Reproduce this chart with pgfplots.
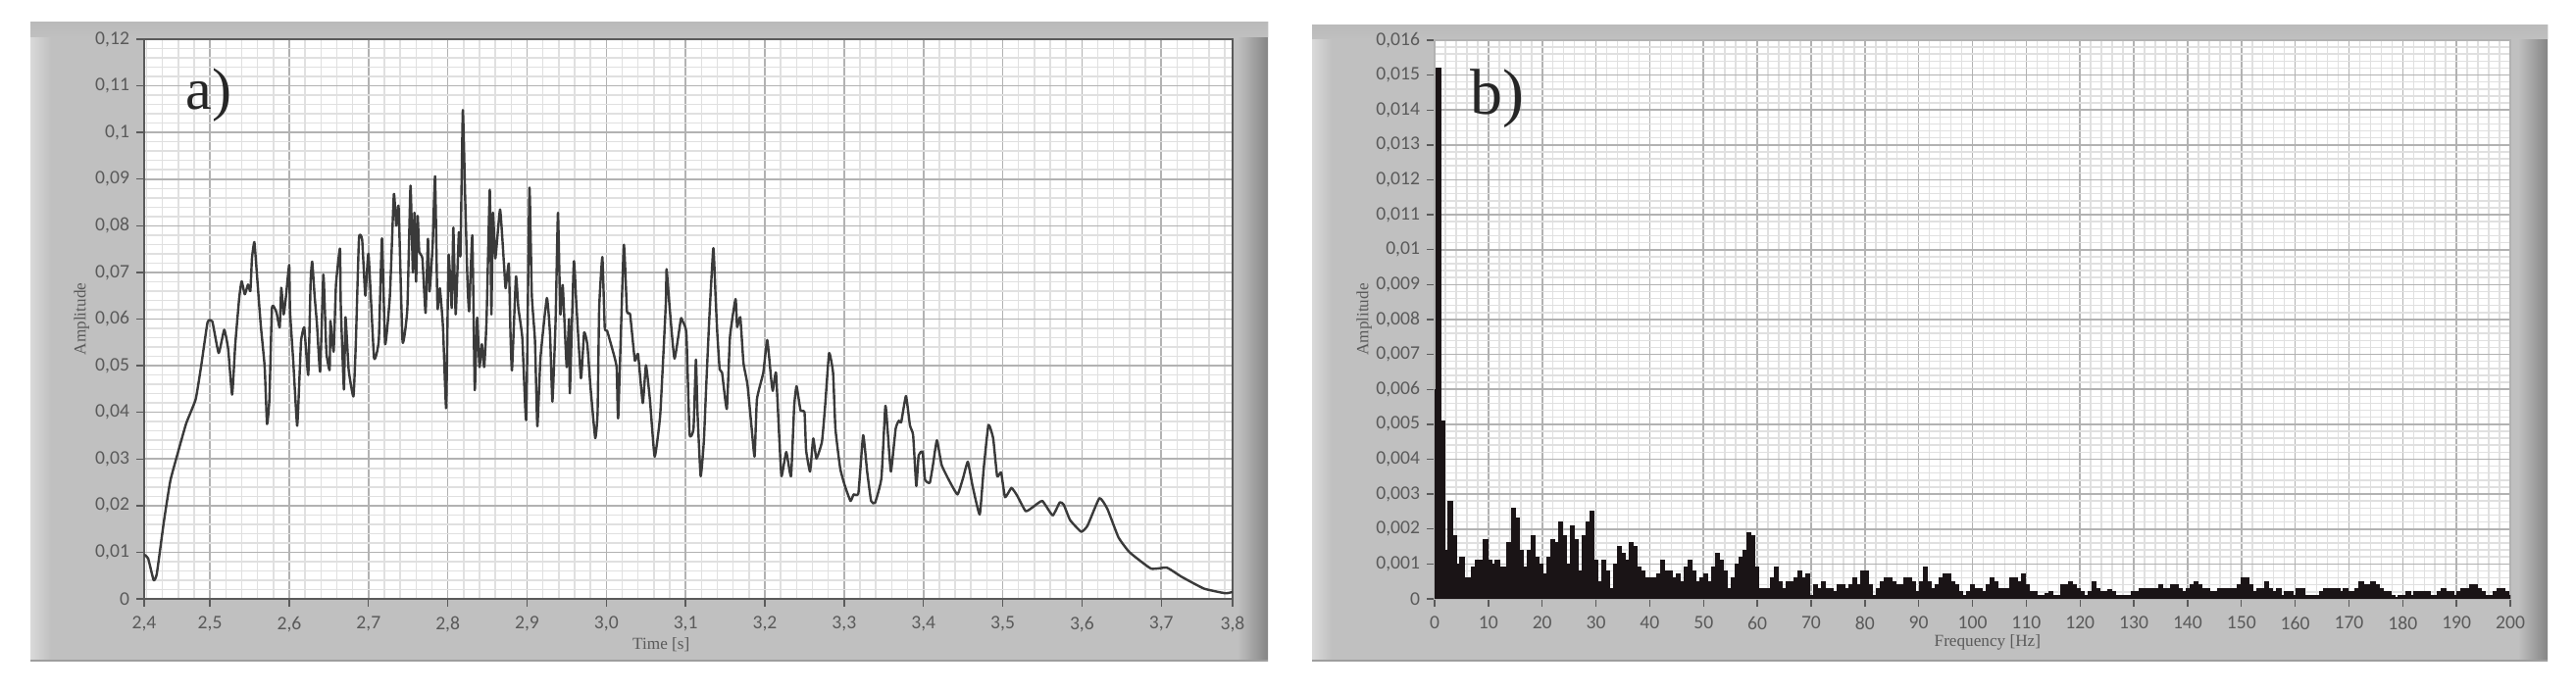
\documentclass[border=0pt]{standalone}
\usepackage{pgfplots}
\pgfplotsset{compat=1.18}
\usepackage{pgfplotstable}
\usepackage{fontspec}
\setmainfont{Carlito}
\newfontfamily\serifl{Liberation Serif}
\definecolor{panel}{HTML}{C0C0C0}
\definecolor{lab}{HTML}{5A5A5A}
\definecolor{gmaj}{HTML}{B2B2B2}
\definecolor{gmin}{HTML}{E0E0E0}
\definecolor{trace}{HTML}{3A3A3A}
\definecolor{bars}{HTML}{1A1416}
\pgfplotstableread{
t a
2.417 .0095
2.422 .0087
2.429 .0040
2.433 .0054
2.442 .0167
2.450 .0253
2.459 .0310
2.470 .0376
2.482 .0428
2.489 .0500
2.497 .0593
2.503 .0595
2.511 .0527
2.518 .0577
2.523 .0536
2.528 .0438
2.532 .0547
2.537 .0646
2.540 .0681
2.544 .0653
2.548 .0674
2.551 .0660
2.553 .0730
2.556 .0765
2.559 .0702
2.564 .0589
2.569 .0498
2.572 .0375
2.575 .0428
2.578 .0618
2.580 .0628
2.584 .0614
2.588 .0582
2.590 .0667
2.593 .0610
2.596 .0650
2.600 .0716
2.601 .0618
2.605 .0512
2.610 .0371
2.613 .0477
2.615 .0554
2.619 .0582
2.624 .0480
2.627 .0681
2.629 .0723
2.632 .0650
2.635 .0589
2.639 .0487
2.643 .0695
2.645 .0618
2.647 .0526
2.651 .0491
2.652 .0596
2.656 .0530
2.659 .0674
2.664 .0751
2.665 .0632
2.669 .0449
2.671 .0604
2.675 .0491
2.681 .0434
2.684 .0547
2.688 .0773
2.692 .0770
2.696 .0650
2.700 .0740
2.707 .0517
2.713 .0555
2.717 .0773
2.721 .0546
2.727 .0650
2.732 .0868
2.735 .0800
2.738 .0840
2.743 .0551
2.749 .0622
2.753 .0886
2.756 .0700
2.758 .0828
2.760 .0680
2.762 .0821
2.764 .0744
2.768 .0730
2.772 .0613
2.775 .0772
2.777 .0659
2.781 .0760
2.784 .0906
2.787 .0624
2.790 .0666
2.794 .0582
2.798 .0409
2.801 .0737
2.805 .0624
2.807 .0796
2.810 .0610
2.814 .0786
2.816 .0737
2.819 .1048
2.822 .0856
2.825 .0673
2.827 .0617
2.831 .0779
2.834 .0448
2.837 .0603
2.840 .0497
2.843 .0546
2.846 .0497
2.849 .0603
2.853 .0877
2.855 .0610
2.857 .0828
2.860 .0730
2.866 .0835
2.871 .0715
2.873 .0666
2.877 .0719
2.879 .0575
2.881 .0490
2.886 .0691
2.889 .0624
2.894 .0560
2.899 .0385
2.903 .0881
2.906 .0652
2.910 .0554
2.913 .0370
2.917 .0518
2.925 .0645
2.929 .0568
2.932 .0423
2.936 .0596
2.939 .0828
2.942 .0610
2.945 .0673
2.950 .0497
2.953 .0600
2.954 .0441
2.959 .0723
2.962 .0638
2.968 .0473
2.972 .0571
2.976 .0546
2.980 .0455
2.986 .0345
2.989 .0399
2.991 .0624
2.995 .0733
2.998 .0582
3.001 .0575
3.007 .0539
3.013 .0497
3.015 .0388
3.022 .0758
3.026 .0617
3.030 .0610
3.036 .0511
3.040 .0525
3.046 .0420
3.050 .0501
3.055 .0427
3.061 .0305
3.068 .0395
3.075 .0631
3.076 .0707
3.080 .0622
3.086 .0515
3.094 .0600
3.096 .0596
3.101 .0569
3.105 .0354
3.110 .0365
3.113 .0513
3.115 .0400
3.119 .0263
3.123 .0337
3.126 .0456
3.130 .0604
3.135 .0752
3.138 .0640
3.140 .0569
3.143 .0492
3.146 .0485
3.152 .0407
3.156 .0562
3.163 .0643
3.165 .0583
3.169 .0604
3.173 .0506
3.178 .0460
3.183 .0372
3.187 .0305
3.190 .0428
3.198 .0485
3.203 .0555
3.208 .0470
3.210 .0446
3.214 .0485
3.218 .0351
3.221 .0263
3.227 .0315
3.233 .0263
3.237 .0414
3.240 .0456
3.245 .0404
3.250 .0400
3.252 .0319
3.257 .0273
3.261 .0344
3.265 .0301
3.272 .0337
3.276 .0414
3.281 .0527
3.286 .0485
3.289 .0365
3.295 .0280
3.301 .0242
3.308 .0210
3.312 .0224
3.318 .0227
3.324 .0351
3.329 .0273
3.334 .0210
3.339 .0206
3.347 .0259
3.352 .0414
3.355 .0358
3.359 .0273
3.365 .0365
3.369 .0382
3.372 .0379
3.378 .0435
3.383 .0372
3.387 .0351
3.391 .0242
3.394 .0308
3.399 .0315
3.402 .0256
3.408 .0249
3.412 .0287
3.417 .0340
3.423 .0287
3.433 .0252
3.443 .0224
3.450 .0259
3.456 .0294
3.462 .0242
3.471 .0181
3.476 .0279
3.482 .0373
3.488 .0344
3.493 .0263
3.498 .0271
3.503 .0218
3.511 .0238
3.518 .0222
3.529 .0188
3.539 .0198
3.550 .0210
3.563 .0179
3.572 .0207
3.577 .0202
3.585 .0169
3.599 .0144
3.607 .0157
3.622 .0216
3.632 .0193
3.646 .0132
3.660 .0100
3.687 .0065
3.707 .0067
3.726 .0047
3.754 .0022
3.781 .0012
3.790 .0015
}\tablea
\pgfplotstableread{
v
.0060
.0152
.0051
.0014
.0028
.0018
.0010
.0012
.0006
.0006
.0009
.0011
.0011
.0017
.0011
.0010
.0011
.0009
.0009
.0016
.0026
.0023
.0014
.0009
.0014
.0018
.0012
.0010
.0007
.0012
.0017
.0016
.0022
.0018
.0010
.0021
.0017
.0008
.0018
.0022
.0025
.0011
.0005
.0011
.0008
.0003
.0010
.0015
.0013
.0011
.0016
.0015
.0009
.0008
.0006
.0006
.0006
.0007
.0011
.0008
.0008
.0006
.0007
.0005
.0009
.0011
.0008
.0005
.0006
.0007
.0005
.0009
.0013
.0011
.0008
.0003
.0006
.0010
.0012
.0014
.0019
.0018
.0009
.0003
.0003
.0003
.0006
.0009
.0005
.0003
.0005
.0005
.0006
.0008
.0006
.0007
.0001
.0004
.0003
.0005
.0003
.0003
.0002
.0004
.0004
.0003
.0004
.0006
.0004
.0008
.0008
.0004
.0001
.0003
.0005
.0006
.0006
.0005
.0004
.0004
.0006
.0006
.0005
.0002
.0005
.0009
.0005
.0003
.0004
.0006
.0007
.0007
.0005
.0004
.0002
.0001
.0002
.0004
.0003
.0003
.0002
.0004
.0006
.0005
.0003
.0003
.0003
.0006
.0006
.0005
.0007
.0004
.0002
.0002
.0001
.0001
.00015
.0002
.0001
.0001
.0004
.0004
.0005
.0004
.0003
.0002
.0001
.0002
.0005
.0003
.0002
.0002
.00025
.0002
.0001
.0001
.0001
.0001
.0002
.0002
.0003
.0003
.0003
.0003
.0003
.0004
.0003
.0003
.0004
.0004
.0003
.0002
.0003
.0004
.0005
.0004
.0003
.0003
.0002
.0002
.0003
.0003
.0003
.0003
.0003
.0004
.0006
.0006
.0004
.0002
.0003
.0003
.0005
.0003
.0002
.0003
.0001
.0002
.0002
.0001
.0003
.0003
.0001
.0001
.0001
.0001
.0002
.0003
.0003
.0003
.0003
.0002
.0003
.0002
.0002
.0003
.0005
.0004
.0004
.0005
.0004
.0003
.0002
.0002
.0001
.00003
.0001
.0001
.0002
.0001
.0002
.0002
.0002
.0002
.0001
.0001
.0002
.0003
.0002
.0002
.0001
.0002
.0003
.0003
.0004
.0004
.0003
.0002
.0001
.0001
.0002
.0003
.0003
.0002
.0001
}\tableb
\pgfplotsset{
 panelaxis/.style={
  scale only axis,
  axis background/.style={fill=white},
  grid=both,
  major grid style={gmaj,line width=0.8pt},
  minor grid style={gmin,line width=0.75pt},
  tick style={lab,line width=0.7pt},
  major tick length=4pt,
  minor tick length=0pt,
  tick align=outside,
  xtick pos=bottom,
  ytick pos=left,
  scaled y ticks=false,
  scaled x ticks=false,
  ticklabel style={font=\fontsize{9.8}{11}\selectfont,text=lab},
  xticklabel style={yshift=-1.5pt},
  xlabel style={font=\serifl\fontsize{8.6}{10}\selectfont,text=lab,anchor=center},
  ylabel style={font=\serifl\fontsize{8.6}{10}\selectfont,text=lab,anchor=center},
  ymin=0,
 },
}
\begin{document}
\begin{tikzpicture}
\path[use as bounding box,fill=white] (0pt,0pt) rectangle (1313.5pt,353pt);
\begin{scope}[x=0.5pt,y=-0.5pt,shift={(0pt,353pt)}]
  % panel a
  \fill[panel] (31,23) rectangle (1293,675);
  \fill[left color=panel!60!white,right color=panel] (31,23) rectangle (52,675);
  \fill[left color=panel,right color=black!48] (1262,23) rectangle (1293,675);
  \fill[top color=black!27,bottom color=panel] (31,23) rectangle (1293,38);
  \fill[black!38] (31,673) rectangle (1293,675);
  % panel b
  \fill[panel] (1338,26) rectangle (2598,675);
  \fill[left color=panel!60!white,right color=panel] (1338,26) rectangle (1358,675);
  \fill[left color=panel,right color=black!48] (2568,26) rectangle (2598,675);
  \fill[top color=black!27,bottom color=panel] (1338,26) rectangle (2598,40);
  \fill[black!38] (1338,673) rectangle (2598,675);
\end{scope}

\begin{axis}[panelaxis,
  at={(73.5pt,47.5pt)},anchor=south west,width=555pt,height=285.5pt,
  xmin=2.417,xmax=3.79,ymax=0.12,
  xtick={2.417,2.5,2.6,2.7,2.8,2.9,3.0,3.1,3.2,3.3,3.4,3.5,3.6,3.7,3.79},
  xticklabels={{2,4},{2,5},{2,6},{2,7},{2,8},{2,9},{3,0},{3,1},{3,2},{3,3},{3,4},{3,5},{3,6},{3,7},{3,8}},
  minor xtick={2.42,2.44,...,3.785},
  ytick={0,0.01,0.02,0.03,0.04,0.05,0.06,0.07,0.08,0.09,0.1,0.11,0.12},
  yticklabels={0,{0,01},{0,02},{0,03},{0,04},{0,05},{0,06},{0,07},{0,08},{0,09},{0,1},{0,11},{0,12}},
  minor y tick num=4,
  axis line style={lab,line width=0.8pt},
  xlabel={Time [s]},ylabel={Amplitude},
  xlabel style={at={(axis description cs:0.475,-0.082)}},
  ylabel style={at={(axis description cs:-0.0575,0.5)}},
]
\addplot[trace,line width=1.2pt,line join=round,smooth,tension=0.25] table[x=t,y=a]{\tablea};
\node[font=\serifl\fontsize{30}{32}\selectfont,text=black!85,anchor=center] at (rel axis cs:0.0595,0.9) {a)};
\end{axis}

\begin{axis}[panelaxis,
  at={(731.5pt,47.5pt)},anchor=south west,width=548.5pt,height=285pt,
  xmin=0,xmax=200,ymax=0.016,
  xtick={0,10,...,200},
  xticklabels={0,10,20,30,40,50,60,70,80,90,100,110,120,130,140,150,160,170,180,190,200},
  minor x tick num=4,
  ytick={0,0.001,0.002,0.003,0.004,0.005,0.006,0.007,0.008,0.009,0.01,0.011,0.012,0.013,0.014,0.015,0.016},
  yticklabels={0,{0,001},{0,002},{0,003},{0,004},{0,005},{0,006},{0,007},{0,008},{0,009},{0,01},{0,011},{0,012},{0,013},{0,014},{0,015},{0,016}},
  minor y tick num=4,
  axis line style={gmaj,line width=0.6pt},
  xlabel={Frequency [Hz]},ylabel={Amplitude},
  xlabel style={at={(axis description cs:0.514,-0.078)}},
  ylabel style={at={(axis description cs:-0.0655,0.5)}},
]
\addplot[const plot mark mid,draw=bars,fill=bars,line width=0.6pt] table[x expr=\coordindex*0.73,y=v]{\tableb} \closedcycle;
\node[font=\serifl\fontsize{33}{35}\selectfont,text=black!85,anchor=center] at (rel axis cs:0.0585,0.895) {b)};
\end{axis}
\end{tikzpicture}
\end{document}
